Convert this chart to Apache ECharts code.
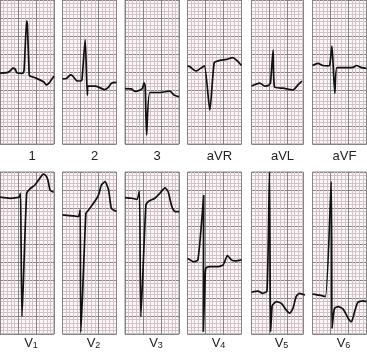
<!DOCTYPE html>
<html>
<head>
<meta charset="UTF-8">
<title>12-lead ECG</title>
<script src="https://cdn.jsdelivr.net/npm/echarts@6/dist/echarts.min.js"></script>
<style>
  html, body { margin: 0; padding: 0; background: #fff; }
  #ecg { width: 367px; height: 354px; }
</style>
</head>
<body>
<div id="ecg"></div>
<script type="text/javascript">
// lead names, top row then bottom row
var topLeads = ['1', '2', '3', 'aVR', 'aVL', 'aVF'];
var bottomLeads = ['1', '2', '3', '4', '5', '6']; // V leads, shown as V + subscript

// traces in small-box (mm) units: [time, height from bottom of strip]
var lead1 = [[0,19.7],[2.2,19.9],[3.1,20.6],[3.6,21.1],[4.2,20.8],[4.7,19.8],[6.3,19.6],[6.7,20.6],[7.4,34.2],[7.6,33.3],[8.1,19.4],[8.3,18.9],[10,18.3],[12.2,17.2],[12.9,16.4],[13.6,16.9],[15,18.9]];
var lead2 = [[0,18.1],[1.1,18.2],[2.2,19.2],[2.8,18.9],[3.9,17.6],[5,17.5],[5.4,17.8],[6.3,28.9],[6.9,13.6],[7.1,16.1],[9.2,16.1],[11.7,15.1],[12.8,15.8],[13.6,16.9],[15,17.1]];
var lead3 = [[0,15.4],[1.8,15.3],[2.8,14.6],[4.2,15.0],[4.9,15.6],[5.3,17.0],[5.6,16.1],[6.0,2.5],[6.9,14.3],[9.7,14.3],[11.7,14.6],[12.5,14.7],[13.6,13.6],[15,13.1]];
var leadAVR = [[0,21.7],[0.8,21.4],[1.7,20.6],[2.5,20.3],[3.6,21.0],[4.7,21.7],[6.2,9.4],[7.4,22.5],[8.5,23.1],[10.8,23.5],[12.6,24.0],[13.6,23.3],[15,21.8]];
var leadAVL = [[0,16.1],[2.3,16.9],[3.7,16.1],[4.9,16.4],[5.3,17.2],[6.0,26.1],[6.4,15.8],[8.8,15.5],[11.5,15.0],[12.9,16.4],[14.0,17.5]];
var leadAVF = [[0,21.8],[1.5,22.4],[2.8,21.8],[4.3,21.7],[4.8,21.9],[5.4,27.2],[6.2,14.1],[6.8,21.2],[9.4,21.2],[11.3,21.3],[12.2,21.8],[13.6,21.2],[15,21.0]];
var leadV1 = [[0,38.0],[2.8,37.7],[4.7,37.9],[5.4,38.1],[5.7,39.1],[6.1,4.8],[7.4,39.0],[8.3,40.3],[9.7,41.4],[11.1,43.3],[12.0,44.4],[12.8,43.9],[13.3,42.8],[13.9,40.0],[14.9,39.4]];
var leadV2 = [[0,33.1],[3.1,32.8],[4.4,32.6],[4.9,34.4],[5.1,0.6],[6.5,33.5],[7.2,34.4],[8.6,36.3],[10.0,38.6],[10.8,41.4],[11.8,42.3],[12.8,40.0],[13.6,34.9],[15,34.0]];
var leadV3 = [[0,37.9],[1.9,37.7],[3.3,37.4],[4.0,39.7],[4.4,4.8],[5.8,35.8],[6.5,36.8],[8.3,37.7],[9.7,39.1],[11.1,40.6],[12.0,39.5],[13.0,35.4],[13.9,34.0],[15,34.0]];
var leadV4 = [[0,21.0],[1.7,20.1],[2.9,20.6],[4.5,38.6],[4.4,0.6],[4.9,15.8],[5.1,18.3],[6.1,18.7],[8.3,18.7],[9.9,19.2],[11.1,21.8],[12.2,20.6],[13.3,20.3],[15,20.6]];
var leadV5 = [[0,11.6],[1.8,11.9],[3.1,11.3],[4.3,11.9],[5.0,45],[5.3,0.6],[5.7,7.5],[5.9,8.1],[6.9,9.0],[8.3,8.5],[9.6,6.7],[10.6,5.8],[11.5,7.1],[12.4,10.4],[13.3,11.3],[15,10.8]];
var leadV6 = [[0,11.1],[1.9,10.8],[3.6,10.4],[5.2,42.3],[5.4,1.6],[5.6,3.3],[6.1,7.1],[7.1,7.6],[8.5,6.9],[9.9,4.4],[10.8,3.4],[11.7,6.2],[12.6,8.8],[14.0,9.2],[15,9.0]];

var topData = [lead1, lead2, lead3, leadAVR, leadAVL, leadAVF];
var bottomData = [leadV1, leadV2, leadV3, leadV4, leadV5, leadV6];

var lefts = [0, 62.5, 125, 187.5, 251.5, 312.5];
var widths = [54, 54, 54, 54, 52, 54];

var grids = [], xAxes = [], yAxes = [], series = [], titles = [];
var labelFont = 'Liberation Sans, Arial, sans-serif';

function addPanel(idx, left, top, width, height, xmax, ymax, data) {
	grids.push({
		left: left, top: top, width: width, height: height,
		show: true, borderColor: '#8a8a8a', borderWidth: 1, backgroundColor: '#fbf7f8'
	});
	var common = {
		gridIndex: idx, type: 'value', min: 0, interval: 5,
		axisLine: { show: false }, axisTick: { show: false }, axisLabel: { show: false },
		splitLine: { show: true, lineStyle: { color: '#858585', width: 1 } },
		minorTick: { show: false, splitNumber: 5 },
		minorSplitLine: { show: true, lineStyle: { color: '#d5c2c8', width: 1 } }
	};
	xAxes.push(Object.assign({}, common, { max: xmax }));
	yAxes.push(Object.assign({}, common, { max: ymax }));
	series.push({
		type: 'line', xAxisIndex: idx, yAxisIndex: idx, data: data,
		showSymbol: false, smooth: 0.2, silent: true,
		lineStyle: { color: '#111', width: 1.7 }
	});
}

for (var i = 0; i < 6; i++) {
	addPanel(i, lefts[i], 0, widths[i], 144, widths[i] / 3.6, 40, topData[i]);
	titles.push({
		text: topLeads[i], left: lefts[i] + widths[i] / 2, top: 145, textAlign: 'center',
		textStyle: { fontFamily: labelFont, fontSize: 13, fontWeight: 'normal', color: '#222' }
	});
}
for (var j = 0; j < 6; j++) {
	addPanel(6 + j, lefts[j], 172, widths[j], 162, widths[j] / 3.6, 45, bottomData[j]);
	titles.push({
		text: '{v|V}{s|' + bottomLeads[j] + '}', left: lefts[j] + widths[j] / 2 - 1, top: 325, textAlign: 'center',
		textStyle: {
			fontWeight: 'normal',
			rich: {
				v: { fontFamily: labelFont, fontSize: 13, fontWeight: 'normal', color: '#222', verticalAlign: 'bottom', lineHeight: 16 },
				s: { fontFamily: labelFont, fontSize: 9, fontWeight: 'normal', color: '#222', verticalAlign: 'bottom', lineHeight: 20, padding: [6, 0, 0, 0] }
			}
		}
	});
}

var chart = echarts.init(document.getElementById('ecg'), null, { renderer: 'canvas' });
chart.setOption({
	animation: false,
	backgroundColor: '#fff',
	title: titles,
	grid: grids,
	xAxis: xAxes,
	yAxis: yAxes,
	series: series
});
</script>
</body>
</html>
